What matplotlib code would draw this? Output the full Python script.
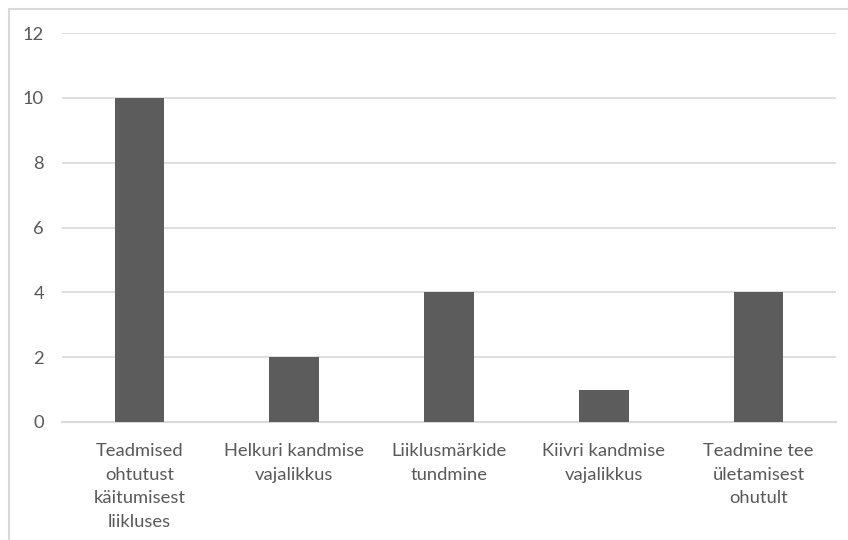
import matplotlib.pyplot as plt
from matplotlib.patches import Rectangle

categories = [
    "Teadmised\nohtutust\nkäitumisest\nliikluses",
    "Helkuri kandmise\nvajalikkus",
    "Liiklusmärkide\ntundmine",
    "Kiivri kandmise\nvajalikkus",
    "Teadmine tee\nületamisest\nohutult",
]
values = [10, 2, 4, 1, 4]

plt.rcParams['font.family'] = ['Lato', 'DejaVu Sans']
text_color = '#595959'

fig = plt.figure(figsize=(8.48, 5.4), dpi=100)
# outer chart frame
fig.patches.append(Rectangle((9 / 848, -0.05), 1.0, 1 - 9 / 540 + 0.05,
                             transform=fig.transFigure, fill=False,
                             edgecolor='#d9d9d9', linewidth=1.5))

ax = fig.add_axes([62 / 848, 1 - 422 / 540, (836 - 62) / 848, (422 - 33) / 540])
x = range(len(values))
ax.bar(x, values, width=0.32, color='#5c5c5c', zorder=3)

ax.set_xlim(-0.5, len(values) - 0.5)
ax.set_ylim(0, 12)
ax.set_yticks(range(0, 13, 2))
ax.set_xticks(list(x))
ax.set_xticklabels(categories, linespacing=1.6)
ax.tick_params(axis='both', length=0, colors=text_color, labelsize=13.2)
ax.tick_params(axis='x', pad=15)
ax.tick_params(axis='y', pad=13)
ax.grid(axis='y', color='#d9d9d9', linewidth=1.2, zorder=0)
for s in ['top', 'right', 'left']:
    ax.spines[s].set_visible(False)
ax.spines['bottom'].set_color('#d9d9d9')
ax.spines['bottom'].set_linewidth(1.5)

plt.savefig('out.png', dpi=100)
plt.close()
